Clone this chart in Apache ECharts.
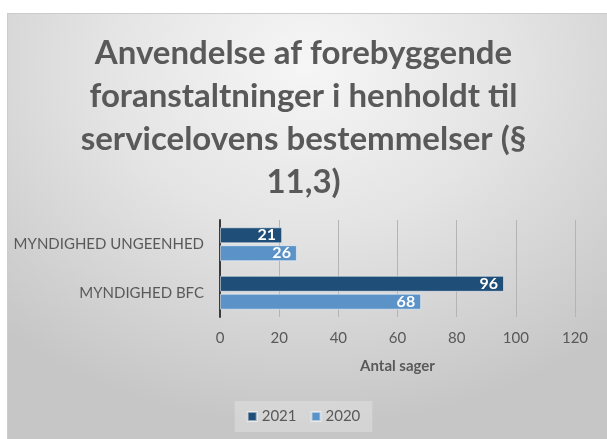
<!DOCTYPE html>
<html>
<head>
<meta charset="utf-8">
<script src="https://cdn.jsdelivr.net/npm/echarts@6/dist/echarts.min.js"></script>
<style>
    html, body {
        margin: 0;
        padding: 0;
        background: #ffffff;
    }
    .chart-bg {
        position: absolute;
        left: 7px;
        top: 13px;
        right: 0;
        bottom: 0;
        border-top: 1px solid #cccccc;
        border-left: 1px solid #cccccc;
        background: radial-gradient(ellipse 75% 85% at 50% 12%, #f6f6f6 0%, #e4e4e4 45%, #c6c6c6 100%);
    }
    #chart {
        position: absolute;
        left: 0;
        top: 0;
        width: 607px;
        height: 439px;
    }
</style>
</head>
<body>
<div class="chart-bg"></div>
<div id="chart"></div>
<script>
// data, bottom category first (echarts draws y categories bottom-up)
const categories = ['MYNDIGHED BFC', 'MYNDIGHED UNGEENHED'];
const values2021 = [96, 21];
const values2020 = [68, 26];
const seriesNames = ['2021', '2020'];
const xTicks = { min: 0, max: 120, interval: 20 };

const titleLines = [
    'Anvendelse af forebyggende',
    'foranstaltninger i henholdt til',
    'servicelovens bestemmelser (§',
    '11,3)'
];

const chart = echarts.init(document.getElementById('chart'));

const labelStyle = {
    show: true,
    position: 'insideRight',
    color: '#ffffff',
    fontWeight: 'bold',
    fontSize: 16,
    fontFamily: 'Lato',
    distance: 6
};

const option = {
    backgroundColor: 'transparent',
    title: {
        text: titleLines.join('\n'),
        left: 'center',
        top: 27,
        textStyle: {
            color: '#595959',
            fontSize: 33,
            fontWeight: 'bold',
            fontFamily: 'Lato',
            lineHeight: 43
        }
    },
    legend: {
        data: seriesNames,
        bottom: 7,
        left: 'center',
        icon: 'rect',
        itemWidth: 9,
        itemHeight: 9,
        itemGap: 14,
        padding: [8, 12],
        backgroundColor: 'rgba(255,255,255,0.25)',
        textStyle: {
            color: '#595959',
            fontSize: 15,
            fontFamily: 'Lato'
        }
    },
    grid: {
        left: 220,
        right: 32,
        top: 220,
        bottom: 122,
        containLabel: false
    },
    xAxis: {
        type: 'value',
        min: xTicks.min,
        max: xTicks.max,
        interval: xTicks.interval,
        name: 'Antal sager',
        nameLocation: 'middle',
        nameGap: 42,
        nameTextStyle: {
            color: '#595959',
            fontSize: 15,
            fontWeight: 'bold',
            fontFamily: 'Lato'
        },
        axisLine: { show: false },
        axisTick: { show: false },
        axisLabel: {
            color: '#595959',
            fontSize: 15,
            fontFamily: 'Lato',
            margin: 14
        },
        splitLine: {
            show: true,
            lineStyle: { color: '#b4b4b4', width: 1 }
        }
    },
    yAxis: {
        type: 'category',
        data: categories,
        axisLine: {
            show: true,
            lineStyle: { color: '#3a3a3a', width: 2 }
        },
        axisTick: { show: false },
        axisLabel: {
            color: '#595959',
            fontSize: 15,
            fontFamily: 'Lato',
            margin: 16
        }
    },
    series: [
        {
            name: '2021',
            type: 'bar',
            data: values2021,
            barWidth: 16,
            barGap: '12%',
            barCategoryGap: '28%',
            itemStyle: {
                color: '#1f4e79',
                borderColor: 'rgba(255,255,255,0.5)',
                borderWidth: 1
            },
            label: labelStyle
        },
        {
            name: '2020',
            type: 'bar',
            data: values2020,
            barWidth: 16,
            barGap: '12%',
            barCategoryGap: '28%',
            itemStyle: {
                color: '#5b93c9',
                borderColor: 'rgba(255,255,255,0.5)',
                borderWidth: 1
            },
            label: labelStyle
        }
    ]
};

chart.setOption(option);
</script>
</body>
</html>
